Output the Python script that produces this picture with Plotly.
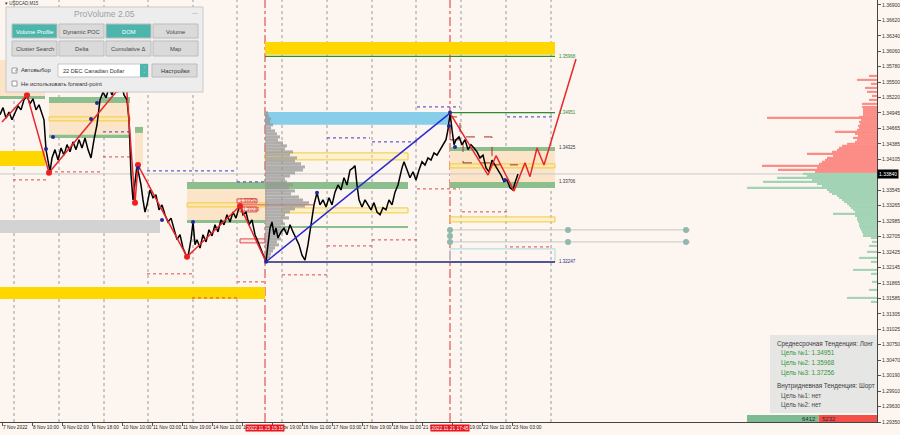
import plotly.graph_objects as go

# ------------------------------------------------------------------ data
# x axis: bar index (chart runs left -> right), y axis: USDCAD price
bar_x = [0, 3, 6, 9, 12, 15, 18, 21, 24, 27, 30, 33, 36, 39, 42, 44, 46, 48, 50, 52, 55, 58, 61, 64, 67, 70,
         73, 76, 79, 82, 85, 88, 91, 94, 97, 100, 103, 106, 109, 112, 115, 118, 121, 124, 127, 129, 131, 133,
         135, 137, 139, 141, 143, 145, 147, 150, 153, 156, 159, 162, 165, 168, 171, 174, 177, 180, 183, 186,
         188, 191, 193, 195, 197, 200, 203, 206, 209, 212, 215, 218, 221, 224, 227, 230, 233, 236, 239, 241,
         243, 246, 249, 252, 255, 258, 261, 264, 266, 268, 270, 272, 274, 276, 278, 281, 284, 287, 290, 293,
         296, 299, 302, 305, 308, 311, 314, 317, 320, 323, 326, 329, 332, 335, 338, 341, 344, 347, 350, 353,
         355, 357, 359, 362, 365, 368, 371, 374, 377, 380, 383, 386, 389, 392, 395, 398, 400, 402, 404, 407,
         410, 413, 416, 419, 422, 425, 428, 431, 434, 437, 440, 443, 446, 448, 450, 452, 454, 456, 459, 462,
         465, 468, 471, 474, 477, 480, 483, 486, 489, 492, 495, 498, 501, 504, 507, 510, 513, 515, 518]
close = [1.3491, 1.3504, 1.3485, 1.3496, 1.3482, 1.3494, 1.3507, 1.3500, 1.3518, 1.3525, 1.3511, 1.3520,
         1.3500, 1.3509, 1.3491, 1.3482, 1.3428, 1.3409, 1.3388, 1.3413, 1.3428, 1.3409, 1.3431, 1.3418,
         1.3437, 1.3424, 1.3442, 1.3428, 1.3446, 1.3431, 1.3449, 1.3428, 1.3413, 1.3446, 1.3473, 1.3518,
         1.3532, 1.3522, 1.3540, 1.3527, 1.3545, 1.3532, 1.3551, 1.3527, 1.3518, 1.3482, 1.3382, 1.3337,
         1.3364, 1.3400, 1.3382, 1.3364, 1.3337, 1.3315, 1.3328, 1.3355, 1.3341, 1.3346, 1.3319, 1.3328,
         1.3310, 1.3297, 1.3304, 1.3283, 1.3265, 1.3274, 1.3250, 1.3237, 1.3234, 1.3265, 1.3297, 1.3256,
         1.3265, 1.3250, 1.3274, 1.3261, 1.3283, 1.3272, 1.3292, 1.3279, 1.3301, 1.3292, 1.3310, 1.3297,
         1.3315, 1.3304, 1.3323, 1.3326, 1.3310, 1.3315, 1.3292, 1.3301, 1.3274, 1.3261, 1.3247, 1.3232,
         1.3225, 1.3256, 1.3286, 1.3297, 1.3274, 1.3286, 1.3268, 1.3279, 1.3286, 1.3274, 1.3292, 1.3279,
         1.3268, 1.3256, 1.3237, 1.3228, 1.3256, 1.3292, 1.3328, 1.3350, 1.3328, 1.3337, 1.3324, 1.3341,
         1.3328, 1.3351, 1.3364, 1.3355, 1.3377, 1.3364, 1.3391, 1.3395, 1.3399, 1.3364, 1.3337, 1.3324,
         1.3337, 1.3328, 1.3319, 1.3332, 1.3315, 1.3310, 1.3323, 1.3319, 1.3337, 1.3328, 1.3351, 1.3364,
         1.3382, 1.3395, 1.3406, 1.3391, 1.3377, 1.3388, 1.3373, 1.3391, 1.3406, 1.3400, 1.3413, 1.3409,
         1.3422, 1.3418, 1.3428, 1.3437, 1.3446, 1.3464, 1.3495, 1.3464, 1.3437, 1.3446, 1.3451, 1.3437,
         1.3446, 1.3428, 1.3437, 1.3431, 1.3424, 1.3413, 1.3418, 1.3395, 1.3388, 1.3409, 1.3400, 1.3391,
         1.3382, 1.3370, 1.3373, 1.3359, 1.3355, 1.3368, 1.3384]

last_price = 1.33840

# x tick labels (every 16 hours)
tick_x = [2, 32, 62, 92, 122, 152, 182, 212, 242, 272, 302, 332, 362, 392, 422, 452, 482, 512]
tick_text = ["7 Nov 2022", "8 Nov 10:00", "9 Nov 02:00", "9 Nov 18:00", "10 Nov 10:00", "11 Nov 03:00",
             "11 Nov 19:00", "14 Nov 11:00", "15 Nov 03:00", "15 Nov 19:00", "16 Nov 11:00", "17 Nov 03:00",
             "17 Nov 19:00", "18 Nov 11:00", "21 Nov 03:00", "21 Nov 19:00", "22 Nov 11:00", "23 Nov 03:00"]
day_sep_x = [14, 59, 104, 148, 193, 237, 282, 327, 372, 416, 461, 506, 551]
event_x = [265, 450]
event_text = ["2022.11.15 15:15", "2022.11.21 17:45"]

# price scale labels (the one under the current-price box is hidden)
price_ticks = [1.36900, 1.36620, 1.36340, 1.36060, 1.35780, 1.35500, 1.35220, 1.34945, 1.34665, 1.34385,
               1.34105, 1.33545, 1.33265, 1.32985, 1.32705, 1.32425, 1.32145, 1.31865, 1.31585,
               1.31305, 1.31025, 1.30750, 1.30470, 1.30190, 1.29910, 1.29630, 1.29350]

# ZigZag swings
zz1_x = [2, 27, 49, 126, 135, 138, 187, 240, 266]
zz1_p = [1.3478, 1.3527, 1.3386, 1.3554, 1.3332, 1.3400, 1.3234, 1.3326, 1.3225]
zz2_x = [450, 488, 496, 514, 525, 530, 537, 544, 576]
zz2_p = [1.3494, 1.3382, 1.3417, 1.3353, 1.3404, 1.3379, 1.3431, 1.3400, 1.3592]
pivot_x = [27, 49, 135, 138, 187, 240]
pivot_p = [1.3527, 1.3386, 1.3332, 1.3400, 1.3234, 1.3326]
trend_x = [266, 450]
trend_p = [1.3225, 1.3494]
bdot_x = [46, 53, 91, 97, 138, 162, 193, 266, 317, 450, 449, 455, 505]
bdot_p = [1.34293, 1.3451, 1.34836, 1.35126, 1.33949, 1.33008, 1.32972, 1.3225, 1.3350, 1.3495, 1.34709,
          1.34329, 1.33732]

# zones: (x0, x1, low, high)
gold_zones = [(265, 555, 1.35995, 1.36230), (0, 45, 1.33985, 1.34257), (0, 265, 1.31578, 1.31795)]
sky_zones = [(265, 448, 1.34728, 1.34963)]
green_zones = [(0, 45, 1.35198, 1.35252), (49, 130, 1.35126, 1.35234), (135, 143, 1.34583, 1.34691),
               (49, 130, 1.34492, 1.34547), (187, 408, 1.33569, 1.33696), (187, 265, 1.32954, 1.33008),
               (265, 408, 1.32863, 1.32899), (450, 555, 1.34257, 1.34329), (450, 555, 1.33587, 1.33696)]
gray_zones = [(0, 160, 1.32773, 1.33008)]
peach_zones = [(0, 45, 1.35252, 1.35904), (49, 130, 1.34492, 1.35126), (135, 143, 1.34004, 1.34583),
               (187, 267, 1.32954, 1.33696), (450, 555, 1.33696, 1.34257)]
yellow_boxes = [(49, 130, 1.34800, 1.34872), (187, 267, 1.33243, 1.33316), (265, 408, 1.34094, 1.34221),
                (282, 408, 1.33135, 1.33225), (450, 555, 1.33949, 1.34022), (450, 555, 1.32972, 1.33062)]
cyan_boxes = [(450, 555, 1.32248, 1.32483)]
blue_dotted = [(103, 130, 1.34601), (147, 237, 1.33895), (237, 267, 1.33696), (327, 370, 1.34492),
               (372, 417, 1.34420), (417, 460, 1.35053), (507, 552, 1.34872)]
red_dotted = [(13, 49, 1.33732), (49, 103, 1.33877), (103, 130, 1.34148), (147, 192, 1.32031),
              (192, 237, 1.31596), (237, 267, 1.31886), (282, 327, 1.32013), (327, 372, 1.32537),
              (372, 417, 1.32646), (417, 460, 1.33569), (462, 507, 1.33153), (510, 552, 1.32519)]
red_dash_boxes = [(450, 460, 1.34456, 1.34872), (463, 492, 1.34040, 1.34510)]
level_green = [(450, 555, 1.34951), (265, 555, 1.35968)]
level_blue = [(266, 555, 1.32247)]
level_labels = [1.35968, 1.34951, 1.34325, 1.33706, 1.32247]
level_label_colors = ["#2E8B2E", "#2E8B2E", "#333333", "#333333", "#1F2A80"]
level_label_x = 557
mark_boxes = [(237, 257, 1.33316, 1.33388, "1.33352"), (240, 257, 1.33153, 1.33243, "1.33210"),
              (240, 265, 1.32592, 1.32664, "")]
gray_levels = [(450, 690, 1.32827), (450, 690, 1.32610)]
gray_dot_x = [450, 450, 450, 568, 568, 686, 686]
gray_dot_p = [1.32827, 1.32718, 1.32610, 1.32827, 1.32610, 1.32827, 1.32610]

# session volume profile (price, volume)
vp_price = [1.34945, 1.34890, 1.34836, 1.34782, 1.34728, 1.34673, 1.34619, 1.34565, 1.34510, 1.34456,
            1.34402, 1.34347, 1.34293, 1.34239, 1.34185, 1.34130, 1.34076, 1.34022, 1.33967, 1.33913,
            1.33859, 1.33804, 1.33750, 1.33696, 1.33642, 1.33587, 1.33533, 1.33479, 1.33424, 1.33370,
            1.33316, 1.33261, 1.33207, 1.33153, 1.33099, 1.33044, 1.32990, 1.32936, 1.32881, 1.32827,
            1.32773, 1.32718, 1.32664, 1.32610, 1.32556, 1.32501, 1.32447, 1.32393, 1.32338, 1.32284]
vp_vol = [3, 4, 6, 5, 8, 6, 10, 12, 15, 13, 18, 22, 20, 28, 25, 32, 30, 36, 40, 38, 30, 25, 20, 22, 28,
          24, 30, 26, 34, 38, 44, 40, 30, 25, 20, 24, 18, 20, 16, 22, 18, 14, 16, 12, 14, 10, 8, 6, 5, 3]
vp_anchor = 265

# DOM (order book) on the right edge
dom_ask_price = [1.35614, 1.35542, 1.35470, 1.35397, 1.35325, 1.35252, 1.35180, 1.35108, 1.35053, 1.35017,
                 1.34981, 1.34945, 1.34909, 1.34872, 1.34854, 1.34818, 1.34782, 1.34746, 1.34709, 1.34673,
                 1.34637, 1.34601, 1.34565, 1.34528, 1.34492, 1.34456, 1.34420, 1.34384, 1.34347, 1.34311,
                 1.34275, 1.34239, 1.34203, 1.34166, 1.34130, 1.34094, 1.34058, 1.34022, 1.33985, 1.33949,
                 1.33913, 1.33877]
dom_ask_size = [8, 20, 6, 12, 10, 5, 8, 15, 15, 14, 14, 14, 14, 18, 110, 16, 18, 17, 19, 18, 20, 42, 22,
                19, 24, 20, 22, 30, 35, 38, 40, 45, 70, 44, 50, 52, 55, 58, 115, 60, 99, 62]
dom_bid_price = [1.33841, 1.33804, 1.33768, 1.33732, 1.33696, 1.33660, 1.33623, 1.33587, 1.33551, 1.33515,
                 1.33479, 1.33442, 1.33406, 1.33370, 1.33334, 1.33298, 1.33261, 1.33225, 1.33189, 1.33153,
                 1.33117, 1.33080, 1.33044, 1.33008, 1.32972, 1.32936, 1.32899, 1.32863, 1.32827, 1.32791,
                 1.32755, 1.32718, 1.32682, 1.32610, 1.32537, 1.32429, 1.32320, 1.32248, 1.32103, 1.32031,
                 1.31886, 1.31741, 1.31596, 1.31524]
dom_bid_size = [74, 70, 100, 65, 114, 60, 55, 130, 50, 48, 45, 40, 38, 35, 33, 30, 28, 26, 24, 22, 44, 22,
                20, 20, 19, 18, 18, 17, 16, 15, 14, 14, 6, 5, 8, 10, 18, 6, 24, 6, 5, 8, 30, 6]
bid_total, ask_total = 6412, 5232

# trend info box
mid_trend = "Лонг"
mid_targets = [1.34951, 1.35968, 1.37256]
intra_trend = "Шорт"
intra_targets = ["нет", "нет"]

symbol_label = "▾ USDCAD,M15"
panel_title = "ProVolume 2.05"
panel_buttons = [("Volume Profile", True), ("Dynamic POC", False), ("DOM", True), ("Volume", False),
                 ("Cluster Search", False), ("Delta", False), ("Cumulative Δ", False), ("Map", False)]
instrument = "22 DEC Canadian Dollar"

# ------------------------------------------------------------------ layout constants
X_MIN, X_MAX = 0, 877
Y_MIN, Y_MAX = 1.29350, 1.36988
PW, PH = 877, 422
BG = "#FDF5EF"
FONT = "Liberation Sans"


def px(x):
    return x / PW


def py(y):
    return 1 - y / PH


shapes = []
annos = []


def rect(x0, x1, y0, y1, fill="rgba(0,0,0,0)", line=None, width=0, dash="solid", layer="below",
         xref="x", yref="y", opacity=1):
    shapes.append(dict(type="rect", x0=x0, x1=x1, y0=y0, y1=y1, xref=xref, yref=yref,
                       fillcolor=fill, opacity=opacity, layer=layer,
                       line=dict(color=line or "rgba(0,0,0,0)", width=width, dash=dash)))


def hline(x0, x1, y, color, width=1, dash="solid", layer="below"):
    shapes.append(dict(type="line", x0=x0, x1=x1, y0=y, y1=y, xref="x", yref="y", layer=layer,
                       line=dict(color=color, width=width, dash=dash)))


def text(x, y, s, size=6, color="#333", xanchor="left", xref="paper", yref="paper", **kw):
    annos.append(dict(x=x, y=y, xref=xref, yref=yref, text=s, showarrow=False, xanchor=xanchor,
                      yanchor="middle", font=dict(family=FONT, size=size, color=color), **kw))


# day separators
for dx in day_sep_x:
    shapes.append(dict(type="line", x0=dx, x1=dx, y0=0, y1=1, xref="x", yref="paper", layer="below",
                       line=dict(color="#9A9A9A", width=1, dash="dot")))

# zones
for x0, x1, lo, hi in peach_zones:
    rect(x0, x1, lo, hi, fill="#FBE4C8")
for x0, x1, lo, hi in gold_zones:
    rect(x0, x1, lo, hi, fill="#FFD700")
for x0, x1, lo, hi in sky_zones:
    rect(x0, x1, lo, hi, fill="#87CEEB")
for x0, x1, lo, hi in green_zones:
    rect(x0, x1, lo, hi, fill="#8DBE8D")
for x0, x1, lo, hi in gray_zones:
    rect(x0, x1, lo, hi, fill="#D3D3D3")
for x0, x1, lo, hi in yellow_boxes:
    rect(x0, x1, lo, hi, fill="rgba(255,236,150,0.35)", line="#F2CC3A", width=1)
for x0, x1, lo, hi in cyan_boxes:
    rect(x0, x1, lo, hi, line="#A9D8E8", width=1)
for x0, x1, y in blue_dotted:
    hline(x0, x1, y, "#3B3BC8", 1, "dot")
for x0, x1, y in red_dotted:
    hline(x0, x1, y, "#E04848", 1, "dot")
for x0, x1, lo, hi in red_dash_boxes:
    rect(x0, x1, lo, hi, line="#A0302A", width=1, dash="dash")
hline(492, 518, 1.34004, "#A0302A", 1, "dash")
for x0, x1, lo, hi, t in mark_boxes:
    rect(x0, x1, lo, hi, fill="rgba(255,220,220,0.6)", line="#E04848", width=1)
    if t:
        text(x0 + 1, (lo + hi) / 2, t, size=4.5, color="#D03030", xref="x", yref="y")
hline(240, 313, 1.33280, "#E04848", 1)
for x0, x1, y in gray_levels:
    hline(x0, x1, y, "#C8C8C8", 1)
# current price line
hline(X_MIN, X_MAX, last_price, "#C8C8C8", 1)
for x0, x1, y in level_green:
    hline(x0, x1, y, "#2E8B2E", 1.3)
for x0, x1, y in level_blue:
    hline(x0, x1, y, "#23237A", 1.5)
for v, c in zip(level_labels, level_label_colors):
    text(level_label_x, v, f"{v:.5f}", size=4.5, color=c, xref="x", yref="y")
# event lines
for ex in event_x:
    shapes.append(dict(type="line", x0=ex, x1=ex, y0=0, y1=1, xref="x", yref="paper", layer="below",
                       line=dict(color="#E03030", width=1, dash="dashdot")))

fig = go.Figure()

# volume profile
fig.add_trace(go.Bar(orientation="h", y=vp_price, x=vp_vol, base=vp_anchor, width=0.00055,
                     marker=dict(color="rgba(150,150,150,0.75)", line=dict(width=0)), hoverinfo="skip"))
# DOM
fig.add_trace(go.Bar(orientation="h", y=dom_ask_price, x=[-s for s in dom_ask_size], base=X_MAX,
                     width=0.00038, marker=dict(color="#FB8C86", line=dict(width=0)), hoverinfo="skip"))
fig.add_trace(go.Bar(orientation="h", y=dom_bid_price, x=[-s for s in dom_bid_size], base=X_MAX,
                     width=0.00038, marker=dict(color="#A3D3B5", line=dict(width=0)), hoverinfo="skip"))

# price
fig.add_trace(go.Scatter(x=bar_x, y=close, mode="lines", line=dict(color="#000000", width=1.5),
                         hoverinfo="skip"))
# trend line
fig.add_trace(go.Scatter(x=trend_x, y=trend_p, mode="lines", line=dict(color="#2A2ACF", width=1.5)))
# zigzag + projection
fig.add_trace(go.Scatter(x=zz1_x, y=zz1_p, mode="lines", line=dict(color="#E8262B", width=1.5)))
fig.add_trace(go.Scatter(x=zz2_x, y=zz2_p, mode="lines", line=dict(color="#E8262B", width=1.5)))
fig.add_trace(go.Scatter(x=pivot_x, y=pivot_p, mode="markers", marker=dict(color="#F01E1E", size=6)))
fig.add_trace(go.Scatter(x=bdot_x, y=bdot_p, mode="markers", marker=dict(color="#1E2A9A", size=4)))
fig.add_trace(go.Scatter(x=gray_dot_x, y=gray_dot_p, mode="markers", marker=dict(color="#8FB9AE", size=6)))

# ------------------------------------------------------------------ overlays (pixel-positioned UI)
# info box
rect(px(770), px(877), py(413), py(335), fill="rgba(228,228,228,0.92)", layer="above",
     xref="paper", yref="paper")
info_rows = [(f"Среднесрочная Тенденция: {mid_trend}", "#3A3A3A", 775)]
info_rows += [(f"Цель №{i + 1}: {v:.5f}", "#2E9A3C", 779) for i, v in enumerate(mid_targets)]
info_rows += [(f"Внутридневная Тенденция: {intra_trend}", "#3A3A3A", 775)]
info_rows += [(f"Цель №{i + 1}: {v}", "#4A4A4A", 779) for i, v in enumerate(intra_targets)]
for (s, c, x0), yy in zip(info_rows, [344, 353, 363, 373, 386, 396, 405]):
    text(px(x0), py(yy), s, size=6.3, color=c)

# bid / ask totals bar
bar_w = 130
g_w = bar_w * bid_total / (bid_total + ask_total)
rect(px(X_MAX - bar_w), px(X_MAX - bar_w + g_w), py(422), py(415), fill="#7DBB93", layer="above",
     xref="paper", yref="paper")
rect(px(X_MAX - bar_w + g_w), px(X_MAX), py(422), py(415), fill="#F24E4A", layer="above",
     xref="paper", yref="paper")
text(px(X_MAX - bar_w + g_w - 1), py(418.5), str(bid_total), size=6, color="#2a2a2a", xanchor="right")
text(px(X_MAX - bar_w + g_w + 1), py(418.5), str(ask_total), size=6, color="#2a2a2a")

# ProVolume panel
rect(px(6), px(203), py(92), py(7), fill="#EDEDED", line="#C9C9C9", width=1, layer="above",
     xref="paper", yref="paper")
text(px(104), py(14), panel_title, size=8.5, color="#A0A0A0", xanchor="center")
text(px(195), py(13), "—", size=6, color="#9A9A9A", xanchor="center")
cols = [12, 59, 106, 153]
rows = [(24, 38), (41, 56)]
for i, (lbl, on) in enumerate(panel_buttons):
    x0 = cols[i % 4]
    y0, y1 = rows[i // 4]
    rect(px(x0), px(x0 + 45), py(y1), py(y0), fill="#4DB6AC" if on else "#DADADA",
         line="#BDBDBD", width=1, layer="above", xref="paper", yref="paper")
    text(px(x0 + 22.5), py((y0 + y1) / 2 + 1), lbl, size=5.8, color="#FFFFFF" if on else "#444444",
         xanchor="center")
# row 3
rect(px(12), px(17), py(73), py(68), fill="#FFFFFF", line="#9A9A9A", width=1, layer="above",
     xref="paper", yref="paper")
text(px(12.3), py(70), "✓", size=6, color="#3AA79C")
text(px(19), py(70.5), "Автовыбор", size=5.8, color="#333333")
rect(px(58), px(148), py(77), py(64), fill="#FFFFFF", line="#C6C6C6", width=1, layer="above",
     xref="paper", yref="paper")
rect(px(140), px(148), py(77), py(64), fill="#4DB6AC", layer="above", xref="paper", yref="paper")
text(px(144), py(70.5), "⌃<br>⌄", size=3, color="#FFFFFF", xanchor="center")
text(px(61), py(71), instrument, size=5.6, color="#333333")
rect(px(152), px(197), py(77), py(64), fill="#DADADA", line="#BDBDBD", width=1, layer="above",
     xref="paper", yref="paper")
text(px(174.5), py(71), "Настройки", size=5.8, color="#333333", xanchor="center")
# row 4
rect(px(12), px(17), py(86), py(81), fill="#FFFFFF", line="#9A9A9A", width=1, layer="above",
     xref="paper", yref="paper")
text(px(19), py(84), "Не использовать forward-point", size=5.8, color="#333333")

# symbol label
text(px(3), py(4), symbol_label, size=4.5, color="#333333")

# current price box on the axis
annos.append(dict(x=1.0, y=last_price, xref="paper", yref="y", text=f"{last_price:.5f}", showarrow=False,
                  xanchor="left", yanchor="middle", bgcolor="#000000", borderpad=1,
                  font=dict(family=FONT, size=5, color="#FFFFFF")))
# event time boxes
for ex, et in zip(event_x, event_text):
    annos.append(dict(x=ex, y=0, xref="x", yref="paper", text=et, showarrow=False, xanchor="center",
                      yanchor="top", yshift=-2, bgcolor="#E8141E", borderpad=0.5,
                      font=dict(family=FONT, size=4.8, color="#FFFFFF")))

fig.update_layout(
    width=900, height=435, margin=dict(l=0, r=23, t=0, b=13),
    paper_bgcolor=BG, plot_bgcolor=BG, showlegend=False, barmode="overlay",
    shapes=shapes, annotations=annos,
    font=dict(family=FONT, size=5, color="#333333"),
    xaxis=dict(range=[X_MIN, X_MAX], tickvals=tick_x, ticktext=tick_text, showgrid=False, zeroline=False,
               ticks="outside", ticklen=3, tickcolor="#555", showline=True, linecolor="#444",
               linewidth=1, ticklabelposition="outside right", tickangle=0,
               tickfont=dict(size=4.8, color="#222"), fixedrange=True),
    yaxis=dict(range=[Y_MIN, Y_MAX], side="right", tickvals=price_ticks,
               ticktext=[f"{v:.5f}" for v in price_ticks], showgrid=False, zeroline=False,
               ticks="outside", ticklen=3, tickcolor="#555", showline=True, linecolor="#444",
               linewidth=1, tickfont=dict(size=5, color="#333"), fixedrange=True),
)

fig.write_html("out.html", config={"displayModeBar": False},
               post_script="document.body.style.margin='0';document.body.style.padding='0';"
                           "document.body.style.overflow='hidden';")
